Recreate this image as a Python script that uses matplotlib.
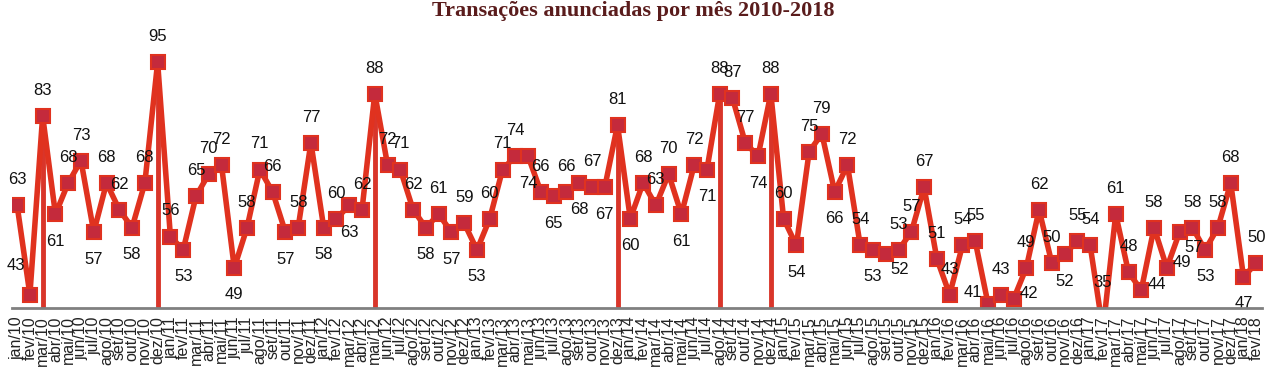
import matplotlib.pyplot as plt

anos = ['10', '11', '12', '13', '14', '15', '16', '17', '18']
meses = ['jan', 'fev', 'mar', 'abr', 'mai', 'jun', 'jul', 'ago', 'set', 'out', 'nov', 'dez']
rotulos = [m + '/' + a for a in anos for m in meses][:98]

valores = [
    63, 43, 83, 61, 68, 73, 57, 68, 62, 58, 68, 95,   # 2010
    56, 53, 65, 70, 72, 49, 58, 71, 66, 57, 58, 77,   # 2011
    58, 60, 63, 62, 88, 72, 71, 62, 58, 61, 57, 59,   # 2012
    53, 60, 71, 74, 74, 66, 65, 66, 68, 67, 67, 81,   # 2013
    60, 68, 63, 70, 61, 72, 71, 88, 87, 77, 74, 88,   # 2014
    60, 54, 75, 79, 66, 72, 54, 53, 52, 53, 57, 67,   # 2015
    51, 43, 54, 55, 41, 43, 42, 49, 62, 50, 52, 55,   # 2016
    54, 35, 61, 48, 44, 58, 49, 57, 58, 53, 58, 68,   # 2017
    47, 50,                                           # 2018
]

# posicao do rotulo: a=acima, b=abaixo, u=acima-esq, l=esquerda, r=direita, q=abaixo-dir
posicao = (
    'auabaabaabaa'
    'abaaabaaabaa'
    'babaaaaababa'
    'baaababababa'
    'baaababaaaba'
    'abaabaabqaaa'
    'aaaalaraaaba'
    'aaaararqabaa'
    'ba'
)

# meses com linha vertical ate o eixo
destaques = [2, 11, 28, 47, 55, 59]

x = list(range(len(valores)))

plt.rcParams['font.family'] = ['Liberation Sans', 'DejaVu Sans']

fig = plt.figure(figsize=(12.7, 3.84), dpi=100)
ax = fig.add_axes([12 / 1270, 1 - 308 / 384, 1250 / 1270, 268 / 384])

vermelho = '#e0321f'
for i in destaques:
    ax.plot([i, i], [40, valores[i]], color='#d9352a', lw=3.5, zorder=2,
            solid_capstyle='butt')

ax.plot(x, valores, color=vermelho, lw=4, marker='s', ms=10,
        mfc='#c42a3c', mec=vermelho, mew=1.5, zorder=3, clip_on=True)

desloc = {'a': (0, 13, 'bottom'), 'b': (0, -14, 'top'), 'u': (-10, 21, 'center'),
          'l': (-11, 8, 'center'), 'r': (11, 4, 'center'), 'q': (10, -11, 'center')}
for xi, v, p in zip(x, valores, posicao):
    dx, dy, va = desloc[p]
    ax.annotate(str(v), (xi, max(v, 40)), xytext=(dx, dy), textcoords='offset points',
                ha='center', va=va, fontsize=12, color='#111111', zorder=4)

ax.set_xlim(-0.4, 97.45)
ax.set_ylim(40, 100)
ax.set_xticks(x)
ax.set_xticklabels(rotulos, rotation=90, fontsize=11.5, color='#222222')
ax.tick_params(axis='x', length=0, pad=6)
ax.set_yticks([])
for lado in ['top', 'right', 'left']:
    ax.spines[lado].set_visible(False)
ax.spines['bottom'].set_color('#808080')
ax.spines['bottom'].set_linewidth(2)
ax.spines['bottom'].set_zorder(5)

fig.text(0.4985, 0.997, 'Transações anunciadas por mês 2010-2018', ha='center', va='top',
         fontsize=16, fontweight='bold', color='#5a1c1c',
         family=['Liberation Serif', 'DejaVu Serif'])

fig.savefig('out.png', dpi=100)
